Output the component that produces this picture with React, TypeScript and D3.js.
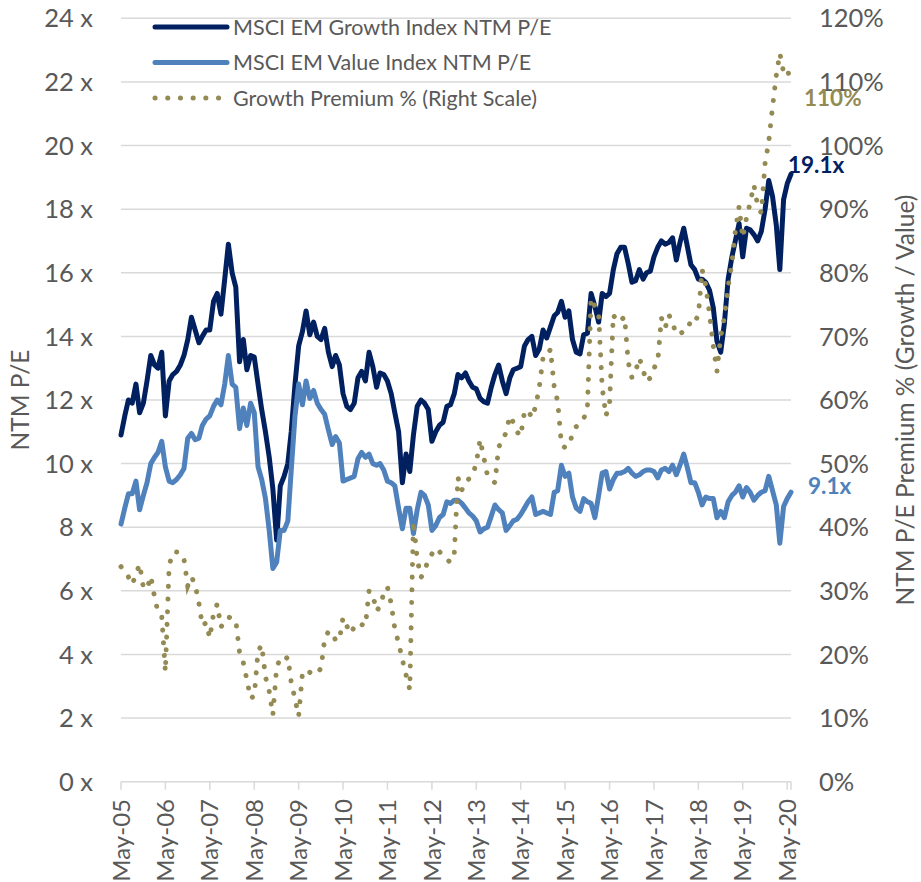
import * as d3 from "d3";

// monthly observations, May-05 .. Jun-20
const months = d3.timeMonth.range(new Date(2005, 4, 1), new Date(2020, 6, 1));

// MSCI EM Growth Index NTM P/E
const growthPE = [
  10.9, 11.5, 12.0, 11.9, 12.5, 11.6, 11.9, 12.6, 13.4, 13.1,
  13.0, 13.5, 11.5, 12.6, 12.8, 12.9, 13.1, 13.4, 13.9, 14.6,
  14.2, 13.8, 14.0, 14.2, 14.2, 15.1, 15.35, 14.7, 15.8, 16.9,
  16.0, 15.55, 13.2, 13.9, 12.95, 13.4, 13.35, 12.5, 11.7, 11.0,
  10.2, 9.2, 7.6, 9.3, 9.6, 10.0, 11.0, 12.5, 13.7, 14.15,
  14.8, 14.05, 14.45, 14.0, 13.9, 14.25, 13.5, 13.05, 13.4, 13.1,
  12.2, 11.8, 11.7, 11.9, 12.7, 12.9, 12.6, 13.5, 13.05, 12.4,
  12.85, 12.8, 12.6, 12.2, 11.6, 11.0, 9.4, 10.3, 9.75, 10.9,
  11.8, 12.0, 11.9, 11.7, 10.7, 11.0, 11.2, 11.3, 11.8, 11.85,
  12.2, 12.8, 12.7, 12.85, 12.6, 12.4, 12.35, 12.05, 11.95, 11.9,
  12.4, 12.8, 13.1, 12.6, 12.2, 12.7, 12.95, 13.0, 13.05, 13.7,
  13.9, 14.0, 13.4, 13.6, 14.2, 13.95, 14.3, 14.65, 14.75, 15.1,
  14.6, 14.8, 13.9, 13.5, 13.45, 14.05, 14.1, 15.35, 14.95, 14.45,
  15.35, 15.25, 15.35, 16.1, 16.6, 16.8, 16.8, 16.3, 15.7, 15.75,
  16.1, 15.8, 16.0, 16.05, 16.5, 16.8, 17.0, 16.9, 16.95, 17.1,
  16.4, 16.95, 17.4, 16.8, 16.25, 16.1, 15.8, 15.8, 15.7, 15.45,
  14.9, 13.85, 13.5, 14.4, 15.8, 16.5, 17.0, 17.55, 16.5, 17.4,
  17.35, 17.2, 17.0, 17.3, 18.0, 18.9, 18.4, 17.5, 16.1, 18.3,
  18.8, 19.1,
];

// MSCI EM Value Index NTM P/E
const valuePE = [
  8.1, 8.6, 9.05, 9.05, 9.45, 8.55, 9.0, 9.4, 10.0, 10.2,
  10.35, 10.7, 9.9, 9.45, 9.4, 9.5, 9.65, 9.85, 10.8, 10.95,
  10.75, 10.8, 11.2, 11.4, 11.5, 11.8, 12.0, 11.85, 12.5, 13.4,
  12.5, 12.4, 11.1, 11.75, 11.2, 11.9, 11.6, 9.9, 9.5, 8.9,
  7.9, 6.7, 6.9, 7.9, 7.9, 8.2, 9.8, 11.5, 12.5, 11.85,
  12.6, 12.05, 12.3, 11.9, 11.7, 11.55, 11.05, 10.6, 10.85, 10.65,
  9.45, 9.5, 9.55, 9.6, 10.15, 10.35, 10.2, 10.3, 10.0, 9.95,
  10.0, 9.8, 9.45, 9.4, 9.3, 8.6, 7.95, 8.6, 8.6, 7.8,
  8.55, 9.1, 9.0, 8.7, 7.9, 8.05, 8.3, 8.4, 8.8, 8.75,
  8.85, 8.85, 8.75, 8.6, 8.45, 8.35, 8.2, 7.85, 7.95, 8.0,
  8.35, 8.7, 8.55, 8.45, 7.9, 8.05, 8.2, 8.25, 8.4, 8.6,
  8.8, 8.95, 8.4, 8.45, 8.5, 8.45, 8.4, 9.1, 9.15, 9.95,
  9.6, 9.7, 8.95, 8.6, 8.5, 8.9, 8.8, 8.75, 8.3, 9.0,
  9.7, 9.75, 9.2, 9.5, 9.7, 9.7, 9.75, 9.85, 9.7, 9.6,
  9.65, 9.75, 9.8, 9.8, 9.75, 9.55, 9.8, 9.85, 9.75, 9.95,
  9.65, 9.95, 10.3, 9.85, 9.4, 9.4, 9.1, 8.7, 8.95, 8.9,
  8.9, 8.3, 8.5, 8.3, 8.8, 9.0, 9.1, 9.3, 8.95, 9.25,
  9.1, 8.85, 9.0, 9.1, 9.15, 9.6, 9.15, 8.7, 7.5, 8.65,
  8.9, 9.1,
];

// Growth premium %, right scale
const premiumPct = [
  33.8, 33.0, 32.2, 31.0, 32.6, 34.2, 30.5, 30.3, 32.3, 29.0,
  26.7, 26.0, 17.3, 34.0, 36.0, 36.1, 36.0, 35.0, 30.8, 32.2,
  31.0, 28.0, 24.5, 25.0, 22.6, 26.4, 27.9, 24.3, 25.2, 25.9,
  25.6, 25.4, 20.3, 18.7, 16.0, 13.1, 13.5, 20.5, 21.5, 16.5,
  14.2, 10.5, 18.0, 19.4, 19.1, 19.6, 15.6, 13.0, 10.3, 17.0,
  17.6, 17.2, 16.8, 17.2, 17.8, 22.5, 23.6, 23.5, 22.2, 22.3,
  25.8, 24.5, 23.3, 24.3, 25.0, 24.7, 24.5, 30.0, 29.3, 26.8,
  27.6, 29.6, 30.6, 28.0, 24.0, 21.8, 19.2, 16.8, 14.5, 41.0,
  35.0, 32.1, 33.0, 35.0, 35.8, 36.7, 36.2, 35.4, 34.9, 34.5,
  35.9, 47.8, 45.8, 47.2, 47.6, 48.2, 50.1, 53.8, 51.0, 48.1,
  47.5, 47.0, 52.7, 53.3, 55.0, 57.5, 56.5, 55.0, 54.3, 58.2,
  58.4, 57.2, 59.0, 62.0, 66.7, 66.8, 68.0, 62.0, 59.8, 53.0,
  52.5, 52.9, 54.6, 55.8, 56.5, 57.0, 58.9, 76.0, 74.8, 73.5,
  62.0, 57.5, 59.5, 73.4, 72.3, 72.5, 73.1, 66.0, 63.5, 64.5,
  66.6, 64.7, 62.9, 63.5, 65.0, 66.0, 72.9, 71.3, 73.4, 72.1,
  70.3, 70.5, 70.7, 71.0, 72.6, 72.3, 73.3, 80.5, 78.0, 73.5,
  68.5, 64.5, 70.0, 73.0, 77.8, 81.5, 86.5, 90.4, 85.5, 88.6,
  91.0, 93.8, 90.5, 89.4, 97.2, 100.6, 106.0, 111.0, 114.5, 111.5,
  112.0, 110.0,
];

const seriesNames = [
  "MSCI EM Growth Index NTM P/E",
  "MSCI EM Value Index NTM P/E",
  "Growth Premium % (Right Scale)",
];
const leftTicks = [0, 2, 4, 6, 8, 10, 12, 14, 16, 18, 20, 22, 24];
const rightTicks = [0, 10, 20, 30, 40, 50, 60, 70, 80, 90, 100, 110, 120];
const yearTicks = months.filter((d) => d.getMonth() === 4);

const W = 921;
const H = 882;
const plot = { left: 121, right: 791, top: 18.3, bottom: 781.7 };

const NAVY = "#002060";
const BLUE = "#4F81BD";
const OLIVE = "#948A54";
const GREY = "#595959";
const GRID = "#d9d9d9";
const FONT = "Lato, 'Open Sans', sans-serif";

export default function App() {
  const x = d3.scaleTime()
    .domain([months[0], months[months.length - 1]])
    .range([plot.left, plot.right]);
  const yL = d3.scaleLinear().domain([0, 24]).range([plot.bottom, plot.top]);
  const yR = d3.scaleLinear().domain([0, 120]).range([plot.bottom, plot.top]);

  const lineL = d3.line<number>()
    .x((_, i) => x(months[i]))
    .y((d) => yL(d));
  const lineR = d3.line<number>()
    .x((_, i) => x(months[i]))
    .y((d) => yR(d));

  const last = months.length - 1;
  const fmtX = d3.timeFormat("%b-%y");

  const legend = [
    { name: seriesNames[0], color: NAVY, dash: undefined },
    { name: seriesNames[1], color: BLUE, dash: undefined },
    { name: seriesNames[2], color: OLIVE, dash: "0.1 12.6" },
  ];

  return (
    <svg
      width={W}
      height={H}
      style={{ position: "absolute", left: 0, top: 0, background: "#fff" }}
      fontFamily={FONT}
    >
      {/* gridlines */}
      {leftTicks.map((t) => (
        <line key={"g" + t} x1={plot.left} x2={plot.right} y1={yL(t)} y2={yL(t)}
          stroke={GRID} strokeWidth={1.5} />
      ))}

      {/* x axis ticks */}
      {yearTicks.map((d) => (
        <line key={"xt" + d.getFullYear()} x1={x(d)} x2={x(d)} y1={plot.bottom} y2={plot.bottom + 8}
          stroke={GRID} strokeWidth={1.5} />
      ))}
      <line x1={plot.right} x2={plot.right} y1={plot.bottom} y2={plot.bottom + 8} stroke={GRID} strokeWidth={1.5} />
      {yearTicks.map((d) => (
        <text key={"xl" + d.getFullYear()} transform={`translate(${x(d)},799) rotate(-90)`}
          textAnchor="end" dy="0.36em" fontSize={24} fill={GREY}>
          {fmtX(d)}
        </text>
      ))}

      {/* left axis labels */}
      {leftTicks.map((t) => (
        <text key={"yl" + t} x={93} y={yL(t)} dy="0.36em" textAnchor="end" fontSize={25.5} fill={GREY}>
          {t + " x"}
        </text>
      ))}
      {/* right axis labels */}
      {rightTicks.map((t) => (
        <text key={"yr" + t} x={819} y={yR(t)} dy="0.36em" textAnchor="start" fontSize={25.5} fill={GREY}>
          {t + "%"}
        </text>
      ))}

      {/* axis titles */}
      <text transform={`translate(20,${(plot.top + plot.bottom) / 2}) rotate(-90)`}
        textAnchor="middle" dy="0.36em" fontSize={24.5} fill={GREY}>NTM P/E</text>
      <text transform={`translate(905,${(plot.top + plot.bottom) / 2}) rotate(-90)`}
        textAnchor="middle" dy="0.36em" fontSize={24.5} fill={GREY}>
        NTM P/E Premium % (Growth / Value)
      </text>

      {/* series */}
      <path d={lineL(growthPE) ?? ""} fill="none" stroke={NAVY} strokeWidth={5}
        strokeLinejoin="round" strokeLinecap="round" />
      <path d={lineL(valuePE) ?? ""} fill="none" stroke={BLUE} strokeWidth={5}
        strokeLinejoin="round" strokeLinecap="round" />
      <path d={lineR(premiumPct) ?? ""} fill="none" stroke={OLIVE} strokeWidth={5}
        strokeDasharray="0.1 12.6" strokeLinecap="round" />

      {/* end labels */}
      <text x={x(months[last]) + 13} y={yR(premiumPct[last]) + 16} dy="0.36em"
        fontSize={22.5} fontWeight="bold" fill={OLIVE}>
        {premiumPct[last] + "%"}
      </text>
      <text x={x(months[last]) - 3} y={yL(growthPE[last]) - 9} dy="0.36em"
        fontSize={22.5} fontWeight="bold" fill={NAVY}>
        {growthPE[last].toFixed(1) + "x"}
      </text>
      <text x={x(months[last]) + 17} y={yL(valuePE[last]) - 6} dy="0.36em"
        fontSize={22.5} fontWeight="bold" fill={BLUE}>
        {valuePE[last].toFixed(1) + "x"}
      </text>

      {/* legend */}
      {legend.map((l, i) => (
        <g key={l.name} transform={`translate(155,${27 + i * 35.5})`}>
          <line x1={0} x2={72} y1={0} y2={0} stroke={l.color} strokeWidth={5}
            strokeLinecap="round" strokeDasharray={l.dash} />
          <text x={78} y={0} dy="0.36em" fontSize={21.5} fill={GREY}>{l.name}</text>
        </g>
      ))}
    </svg>
  );
}
